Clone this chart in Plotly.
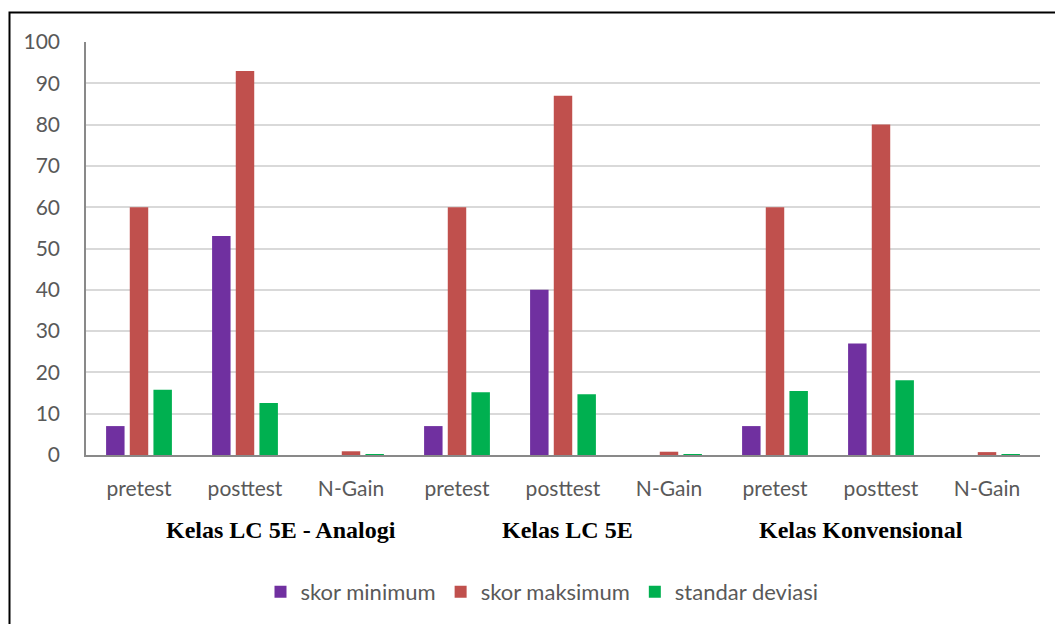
import plotly.graph_objects as go

# Categories along the x axis (three test stages for each of three classes)
stages = ["pretest", "posttest", "N-Gain"]
classes = ["Kelas LC 5E - Analogi", "Kelas LC 5E", "Kelas Konvensional"]
categories = [f"{c}|{s}" for c in classes for s in stages]
tick_labels = stages * 3

# Series values, in category order
skor_minimum = [7, 53, 0, 7, 40, 0, 7, 27, 0]
skor_maksimum = [60, 93, 0.9, 60, 87, 0.8, 60, 80, 0.7]
standar_deviasi = [15.8, 12.6, 0.2, 15.2, 14.7, 0.15, 15.5, 18.1, 0.1]

series = [
    ("skor minimum", skor_minimum, "#7030A0"),
    ("skor maksimum", skor_maksimum, "#C0504D"),
    ("standar deviasi", standar_deviasi, "#00B050"),
]

TEXT = "#595959"
FONT = "Lato"

fig = go.Figure()
for name, vals, color in series:
    fig.add_trace(go.Bar(
        x=categories, y=vals, name=name,
        marker=dict(color=color, line=dict(width=0)),
    ))

W, H = 1055, 624
ml, mr, mt, mb = 86, 15, 42, 168
pw, ph = W - ml - mr, H - mt - mb


def px_x(px):
    return (px - ml) / pw


def px_y(py):
    return (H - mb - py) / ph


fig.update_layout(
    width=W, height=H,
    margin=dict(l=ml, r=mr, t=mt, b=mb),
    paper_bgcolor="white", plot_bgcolor="white",
    barmode="group", bargap=0.33, bargroupgap=0.22,
    font=dict(family=FONT, color=TEXT, size=21),
    xaxis=dict(
        tickmode="array", tickvals=categories, ticktext=tick_labels,
        showgrid=False, showline=True, linecolor="#898989", linewidth=2,
        ticks="", ticklabelstandoff=14,
        tickfont=dict(family=FONT, size=21, color=TEXT),
    ),
    yaxis=dict(
        range=[0, 100], dtick=10, tick0=0,
        showgrid=True, gridcolor="#D9D9D9", gridwidth=1.5,
        showline=True, linecolor="#898989", linewidth=1.5,
        zeroline=False, ticks="", ticklabelstandoff=20,
        tickfont=dict(family=FONT, size=21, color=TEXT),
    ),
    legend=dict(
        orientation="h", x=px_x(542), xanchor="center",
        y=px_y(592), yanchor="middle",
        font=dict(family=FONT, size=22, color=TEXT),
        itemclick=False,
    ),
    showlegend=True,
)

# Class labels under each block of stages
class_label_x = [281, 567, 861]
for label, cx in zip(classes, class_label_x):
    fig.add_annotation(
        text=f"<b>{label}</b>", x=px_x(cx), y=px_y(531),
        xref="paper", yref="paper", showarrow=False,
        xanchor="center", yanchor="middle",
        font=dict(family="Liberation Serif", size=24, color="#000000"),
    )

# Outer frame around the whole chart
fig.add_shape(
    type="rect", xref="paper", yref="paper",
    x0=px_x(9.5), x1=px_x(1062), y0=px_y(632), y1=px_y(12.5),
    line=dict(color="#000000", width=2), fillcolor="rgba(0,0,0,0)",
    layer="above",
)

fig.write_html("out.html")
